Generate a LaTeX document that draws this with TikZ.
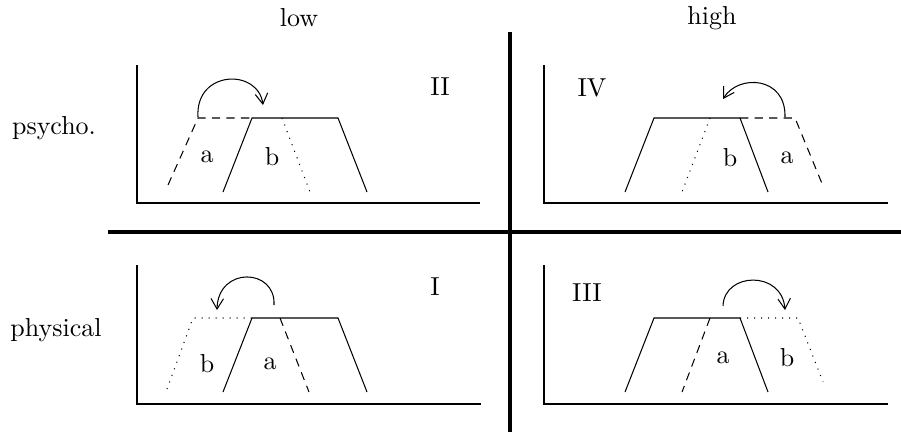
\documentclass[tikz,border=0pt]{standalone}
\usepackage{tikz}
\usetikzlibrary{arrows.meta,positioning}

\begin{document}
\begin{tikzpicture}[
    x=0.385pt, y=-0.385pt,
    axis/.style={line width=0.6pt},
    curve/.style={thin},
    dashcurve/.style={thin, dash pattern=on 3.2pt off 2.4pt},
    dotcurve/.style={thin, dash pattern=on 0.4pt off 2.3pt},
    divider/.style={line width=1.3pt},
    swap/.style={thin, -{Straight Barb[length=4pt,width=4.8pt]}},
    lbl/.style={inner sep=1pt}
]
\useasboundingbox (0,0) rectangle (901,432);

% Dividing cross
\draw[divider] (108,232) -- (901,232);
\draw[divider] (510,32) -- (510,432);

% Row and column headers
\node[lbl] (low) at (299,18) {low};
\node[lbl] (high) at (712,18) {high};
\node[lbl] (psycho) at (54,128) {psycho.};
\node[lbl] (physical) at (56,330) {physical};

% Panel II (psycho., low)
\draw[axis] (137,65) -- (137,203) -- (480,203);
\draw[curve] (223,192) -- (252,118) -- (338,118) -- (367,192);
\draw[dashcurve] (168,185) -- (198,118) -- (252,118);
\draw[dotcurve] (282,118) -- (310,192);
\coordinate (iiFrom) at (198,117);
\coordinate (iiTo) at (263,105);
\draw[swap] (iiFrom) .. controls (195,70) and (258,68) .. (iiTo);
\node[lbl] (iiA) at (207,157) {a};
\node[lbl] (iiB) at (272,157) {b};
\node[lbl] (iiTag) at (440,87) {II};

% Panel IV (psycho., high)
\draw[axis] (544,65) -- (544,203) -- (888,203);
\draw[curve] (625,192) -- (654,118) -- (740,118) -- (768,192);
\draw[dotcurve] (710,118) -- (682,192);
\draw[dashcurve] (740,118) -- (795,118) -- (823,186);
\coordinate (ivFrom) at (785,117);
\coordinate (ivTo) at (723,99);
\draw[swap] (ivFrom) .. controls (786,76) and (738,74) .. (ivTo);
\node[lbl] (ivB) at (730,158) {b};
\node[lbl] (ivA) at (787,158) {a};
\node[lbl] (ivTag) at (592,88) {IV};

% Panel I (physical, low)
\draw[axis] (137,265) -- (137,404) -- (481,404);
\draw[curve] (223,392) -- (252,318) -- (338,318) -- (367,392);
\draw[dotcurve] (167,389) -- (193,318) -- (252,318);
\draw[dashcurve] (280,318) -- (309,392);
\coordinate (iFrom) at (274,305);
\coordinate (iTo) at (217,310);
\draw[swap] (iFrom) .. controls (276,268) and (218,266) .. (iTo);
\node[lbl] (iB) at (207,364) {b};
\node[lbl] (iA) at (270,364) {a};
\node[lbl] (iTag) at (435,287) {I};

% Panel III (physical, high)
\draw[axis] (544,265) -- (544,404) -- (888,404);
\draw[curve] (625,392) -- (654,318) -- (740,318) -- (768,392);
\draw[dashcurve] (710,318) -- (682,392);
\draw[dotcurve] (740,318) -- (798,318) -- (823,382);
\coordinate (iiiFrom) at (723,306);
\coordinate (iiiTo) at (785,310);
\draw[swap] (iiiFrom) .. controls (724,272) and (782,270) .. (iiiTo);
\node[lbl] (iiiA) at (723,358) {a};
\node[lbl] (iiiB) at (787,358) {b};
\node[lbl] (iiiTag) at (587,293) {III};

\end{tikzpicture}
\end{document}
